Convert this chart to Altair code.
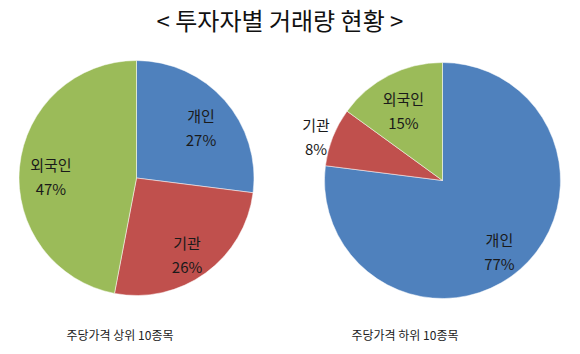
import altair as alt
import pandas as pd

# ---- data ----
categories = ["개인", "기관", "외국인"]
top10_pct = [27, 26, 47]      # 주당가격 상위 10종목
bottom10_pct = [77, 8, 15]    # 주당가격 하위 10종목
captions = ["주당가격 상위 10종목", "주당가격 하위 10종목"]
title_text = "< 투자자별 거래량 현황 >"
colors = ["#4F81BD", "#C0504D", "#9BBB59"]

FONT = "Noto Sans CJK KR"

def make_df(vals):
    return pd.DataFrame({"cat": categories, "pct": vals, "idx": list(range(len(vals)))})

theta_scale = alt.Scale(domain=[0, 100])
color_enc = alt.Color("cat:N", scale=alt.Scale(domain=categories, range=colors), legend=None)


def pie(vals, cx, cy, r, inner_r, outer_r, outer_thresh):
    df = make_df(vals)
    arcs = alt.Chart(df).mark_arc(radius=r, stroke="white", strokeWidth=0.5).encode(
        theta=alt.Theta("pct:Q", stack=True, scale=theta_scale),
        color=color_enc,
        order=alt.Order("idx:Q"),
        x=alt.value(cx),
        y=alt.value(cy),
    )
    base = alt.Chart(df).transform_window(
        cum="sum(pct)", sort=[alt.SortField("idx")], frame=[None, 0]
    ).transform_calculate(
        mid="datum.cum - datum.pct / 2",
        label="datum.cat + '\\n' + datum.pct + '%'",
    )
    txt_kw = dict(fontSize=15, font=FONT, color="#1a1a1a", lineBreak="\n",
                  lineHeight=24, align="center", baseline="middle", dy=-4)
    enc = dict(
        theta=alt.Theta("mid:Q", stack=None, scale=theta_scale),
        text="label:N",
        x=alt.value(cx),
        y=alt.value(cy),
    )
    inside = base.transform_filter(f"datum.pct >= {outer_thresh}").mark_text(
        radius=inner_r, **txt_kw).encode(**enc)
    outside = base.transform_filter(f"datum.pct < {outer_thresh}").mark_text(
        radius=outer_r, **txt_kw).encode(**enc)
    return [arcs, inside, outside]


left = pie(top10_pct, 136.5, 178, 117.5, 86, 134, 10)
right = pie(bottom10_pct, 442.5, 180.5, 118, 86, 136, 10)

title_df = pd.DataFrame({"t": [title_text]})
title = alt.Chart(title_df).mark_text(fontSize=24, font=FONT, color="#111111",
                                      align="center", baseline="middle").encode(
    text="t:N", x=alt.value(280), y=alt.value(23))

cap_df = pd.DataFrame({"t": captions, "i": [0, 1]})
cap_left = alt.Chart(cap_df).transform_filter("datum.i == 0").mark_text(
    fontSize=12, font=FONT, color="#222222", align="center", baseline="middle").encode(
    text="t:N", x=alt.value(120), y=alt.value(336))
cap_right = alt.Chart(cap_df).transform_filter("datum.i == 1").mark_text(
    fontSize=12, font=FONT, color="#222222", align="center", baseline="middle").encode(
    text="t:N", x=alt.value(405), y=alt.value(336))

chart = alt.layer(*left, *right, title, cap_left, cap_right).properties(
    width=580, height=354, autosize=alt.AutoSizeParams(type="none"), padding=0,
    background="white"
).configure_view(stroke=None)

chart.save("out.html", embed_options={"renderer": "svg", "actions": False})
